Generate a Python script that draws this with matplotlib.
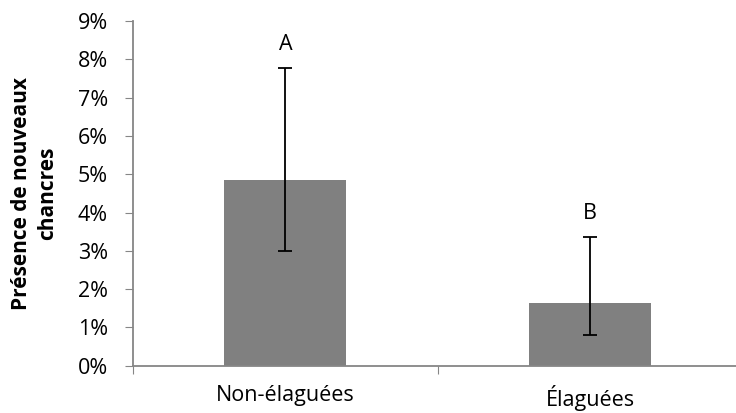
import numpy as np
import matplotlib.pyplot as plt
from matplotlib.ticker import PercentFormatter

categories = ['Non-élaguées', 'Élaguées']
values = [4.85, 1.65]
err_low = [3.0, 0.80]
err_high = [7.77, 3.37]
letters = ['A', 'B']

plt.rcParams['font.family'] = ['Open Sans', 'DejaVu Sans']

fig = plt.figure(figsize=(7.36, 4.13), dpi=100)
ax = fig.add_axes([0.1807, 0.1145, 0.828, 0.8345])

x = np.arange(len(categories))
yerr = [np.array(values) - np.array(err_low), np.array(err_high) - np.array(values)]
ax.bar(x, values, width=0.4, color='#808080', zorder=2)
ax.errorbar(x, values, yerr=yerr, fmt='none', ecolor='black', elinewidth=1.3,
            capsize=5, capthick=1.3, zorder=3)

for xi, top, lab in zip(x, err_high, letters):
    ax.annotate(lab, (xi, top), xytext=(0, 17), textcoords='offset points',
                ha='center', va='center', fontsize=15.5)

ax.set_xlim(-0.5, 1.5)
ax.set_ylim(0, 9)
ax.set_yticks(np.arange(0, 10, 1))
ax.yaxis.set_major_formatter(PercentFormatter(decimals=0))

ax.set_xticks([-0.5, 0.5, 1.5])
ax.set_xticklabels([])
ax.set_xticks(x, minor=True)
ax.set_xticklabels(categories, minor=True, fontsize=15.5)
ax.tick_params(axis='x', which='minor', length=0, pad=14)
ax.tick_params(axis='x', which='major', length=6, color='#868686', direction='out')
ax.tick_params(axis='y', length=6, color='#868686', labelsize=15.5, pad=12)

for s in ['top', 'right']:
    ax.spines[s].set_visible(False)
for s in ['left', 'bottom']:
    ax.spines[s].set_color('#868686')
    ax.spines[s].set_linewidth(1.3)

ax.set_ylabel('Présence de nouveaux\nchancres', fontsize=15, fontweight='bold',
              labelpad=14, linespacing=1.35)

fig.savefig('out.png', dpi=100)
